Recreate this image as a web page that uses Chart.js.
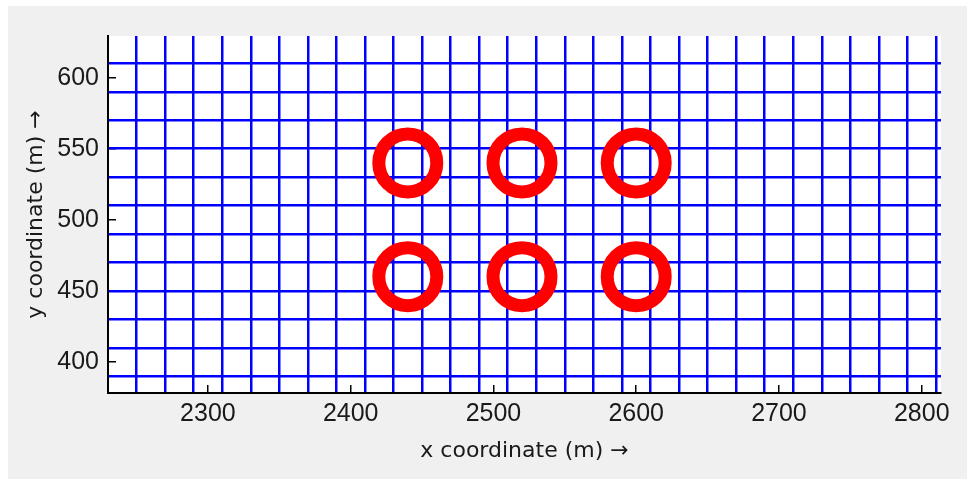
<!DOCTYPE html>
<html lang="en">
  <head>
    <meta charset="UTF-8" />
    <title>Circle layout on grid</title>
    <style>
      html, body { margin: 0; padding: 0; background: #ffffff; }
      .frame { padding: 6px 0 0 8px; }
      canvas { display: block; background: #f0f0f0; }
    </style>
  </head>
  <body>
    <div class="frame">
      <canvas id="myChart" width="959" height="473"></canvas>
    </div>

    <script src="https://cdn.jsdelivr.net/npm/chart.js@4.4.1/dist/chart.umd.min.js"></script>
    <script>
      // axis limits (m)
      var xRange = [2230, 2813.5];
      var yRange = [378.2, 629.3];

      // labelled ticks
      var xTickLabels = [2300, 2400, 2500, 2600, 2700, 2800];
      var yTickLabels = [400, 450, 500, 550, 600];

      // blue mesh lines (m)
      var xGridLines = [2250, 2270, 2290, 2310, 2330, 2350, 2370, 2390, 2410, 2430,
        2450, 2470, 2490, 2510, 2530, 2550, 2570, 2590, 2610, 2630,
        2650, 2670, 2690, 2710, 2730, 2750, 2770, 2790, 2810];
      var yGridLines = [390, 410, 430, 450, 470, 490, 510, 530, 550, 570, 590, 610];

      // circle centres (m)
      var circleX = [2440, 2520, 2600, 2440, 2520, 2600];
      var circleY = [540, 540, 540, 460, 460, 460];

      var tickFont = { family: "'Liberation Sans', Arial, sans-serif", size: 25 };
      var titleFont = { family: "'DejaVu Sans', sans-serif", size: 22 };

      function ticksFrom(list) {
        return function (scale) {
          scale.ticks = list.map(function (v) { return { value: v }; });
        };
      }

      // fixed axis sizes, no extra label overhang padding
      function fixSize(w, h) {
        return function (s) {
          if (w !== null) s.width = w;
          if (h !== null) s.height = h;
          s.paddingTop = 0;
          s.paddingBottom = 0;
          s.paddingLeft = 0;
          s.paddingRight = 0;
        };
      }

      // white plot area
      var plotBackground = {
        id: "plotBackground",
        beforeDraw: function (chart) {
          var a = chart.chartArea;
          chart.ctx.save();
          chart.ctx.fillStyle = "#ffffff";
          chart.ctx.fillRect(a.left, a.top, a.right - a.left, a.bottom - a.top);
          chart.ctx.restore();
        },
      };

      var points = circleX.map(function (x, i) {
        return { x: x, y: circleY[i] };
      });

      var ctx = document.getElementById("myChart").getContext("2d");
      var myChart = new Chart(ctx, {
        type: "scatter",
        data: {
          datasets: [
            {
              data: points,
              xAxisID: "x",
              yAxisID: "y",
              pointStyle: "circle",
              pointRadius: 29,
              pointHoverRadius: 29,
              pointBorderWidth: 13,
              pointBorderColor: "#ff0000",
              pointBackgroundColor: "rgba(0,0,0,0)",
              showLine: false,
            },
          ],
        },
        plugins: [plotBackground],
        options: {
          responsive: false,
          animation: false,
          events: [],
          layout: {
            autoPadding: false,
            padding: { left: 0, top: 30, right: 26, bottom: 0 },
          },
          plugins: { legend: { display: false }, tooltip: { enabled: false } },
          scales: {
            x: {
              type: "linear",
              position: "bottom",
              min: xRange[0],
              max: xRange[1],
              afterBuildTicks: ticksFrom(xTickLabels),
              afterFit: fixSize(null, 86),
              grid: {
                display: true,
                drawOnChartArea: false,
                drawTicks: true,
                tickLength: -8,
                color: "#000000",
                lineWidth: 1.5,
              },
              border: { display: true, color: "#000000", width: 2 },
              ticks: {
                color: "#1a1a1a",
                font: tickFont,
                padding: 14,
                maxRotation: 0,
                callback: function (v) { return String(v); },
              },
              title: {
                display: true,
                text: "x coordinate (m) \u2192",
                color: "#1a1a1a",
                font: titleFont,
                padding: { top: 0, bottom: 15 },
              },
            },
            xg: {
              type: "linear",
              position: "bottom",
              min: xRange[0],
              max: xRange[1],
              afterBuildTicks: ticksFrom(xGridLines),
              afterFit: fixSize(null, 0),
              grid: { color: "#0000ff", lineWidth: 2.5, drawTicks: false },
              border: { display: false },
              ticks: { display: false },
            },
            y: {
              type: "linear",
              position: "left",
              min: yRange[0],
              max: yRange[1],
              afterBuildTicks: ticksFrom(yTickLabels),
              afterFit: fixSize(100, null),
              grid: {
                display: true,
                drawOnChartArea: false,
                drawTicks: true,
                tickLength: -8,
                color: "#000000",
                lineWidth: 1.5,
              },
              border: { display: true, color: "#000000", width: 2 },
              ticks: {
                color: "#1a1a1a",
                font: tickFont,
                padding: 17,
                callback: function (v) { return String(v); },
              },
              title: {
                display: true,
                text: "y coordinate (m) \u2192",
                color: "#1a1a1a",
                font: titleFont,
                padding: { top: 15, bottom: 0 },
              },
            },
            yg: {
              type: "linear",
              position: "left",
              min: yRange[0],
              max: yRange[1],
              afterBuildTicks: ticksFrom(yGridLines),
              afterFit: fixSize(0, null),
              grid: { color: "#0000ff", lineWidth: 2.5, drawTicks: false },
              border: { display: false },
              ticks: { display: false },
            },
          },
        },
      });
    </script>
  </body>
</html>
